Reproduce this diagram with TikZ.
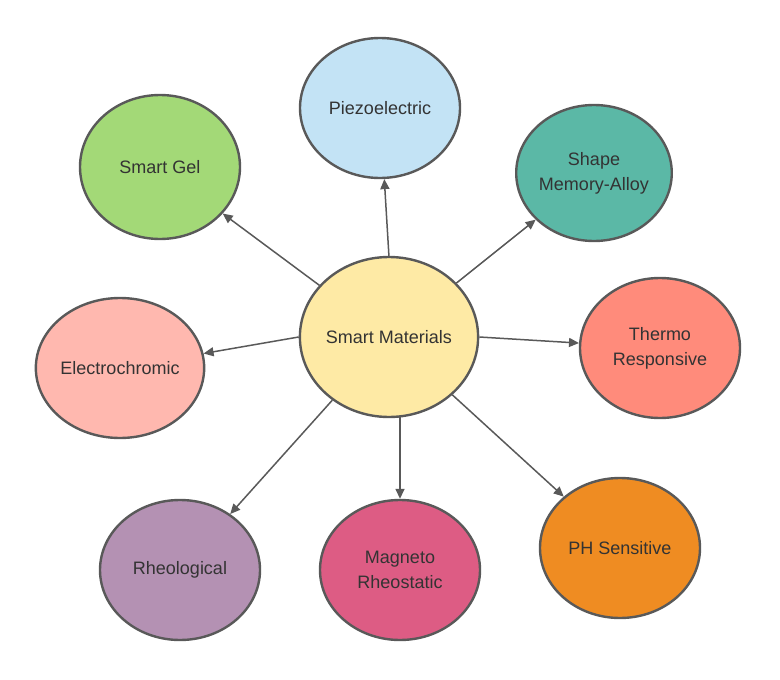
\documentclass[tikz,border=0pt]{standalone}
\usepackage{fontspec}
\setmainfont{Liberation Sans}
\usetikzlibrary{shapes.geometric,arrows.meta}
\definecolor{cGel}{HTML}{A3D977}
\definecolor{cPiezo}{HTML}{C3E3F5}
\definecolor{cShape}{HTML}{5BB8A6}
\definecolor{cThermo}{HTML}{FF8B7B}
\definecolor{cElectro}{HTML}{FFB8AF}
\definecolor{cPH}{HTML}{EF8C22}
\definecolor{cMag}{HTML}{DD5C84}
\definecolor{cRheo}{HTML}{B491B3}
\definecolor{cCenter}{HTML}{FEEAA5}
\definecolor{cLine}{HTML}{595959}
\begin{document}
\begin{tikzpicture}[x=1pt,y=-1pt,
  blob/.style={ellipse,draw=cLine,line width=2.4pt,minimum width=160pt,minimum height=140pt,inner sep=0pt,align=center,font=\fontsize{18}{25}\selectfont,text=black!80},
  conn/.style={draw=cLine,line width=1.5pt,-{Triangle[length=10pt,width=9pt]}}]
\useasboundingbox (0,0) rectangle (780,680);
\node[blob,fill=cCenter,minimum width=178pt,minimum height=160pt] (c) at (389,337) {Smart Materials};
\node[blob,fill=cPiezo] (p) at (380,108) {Piezoelectric};
\node[blob,fill=cGel,minimum height=144pt] (g) at (160,167) {Smart Gel};
\node[blob,fill=cShape,minimum width=148pt,minimum height=136pt] (s) at (594,173) {Shape\\Memory-Alloy};
\node[blob,fill=cThermo] (t) at (660,348) {Thermo\\Responsive};
\node[blob,fill=cElectro] (e) at (120,368) {Electrochromic};
\node[blob,fill=cPH] (ph) at (620,548) {PH Sensitive};
\node[blob,fill=cMag] (m) at (400,570) {Magneto\\Rheostatic};
\node[blob,fill=cRheo] (r) at (180,570) {Rheological};
\draw[conn] (389,257) -- (p);
\draw[conn] (c) -- (g);
\draw[conn] (c) -- (s);
\draw[conn] (c.east) -- (t);
\draw[conn] (c.west) -- (e);
\draw[conn] (c) -- (ph);
\draw[conn] (400,417) -- (m);
\draw[conn] (c) -- (r);
\end{tikzpicture}
\end{document}
